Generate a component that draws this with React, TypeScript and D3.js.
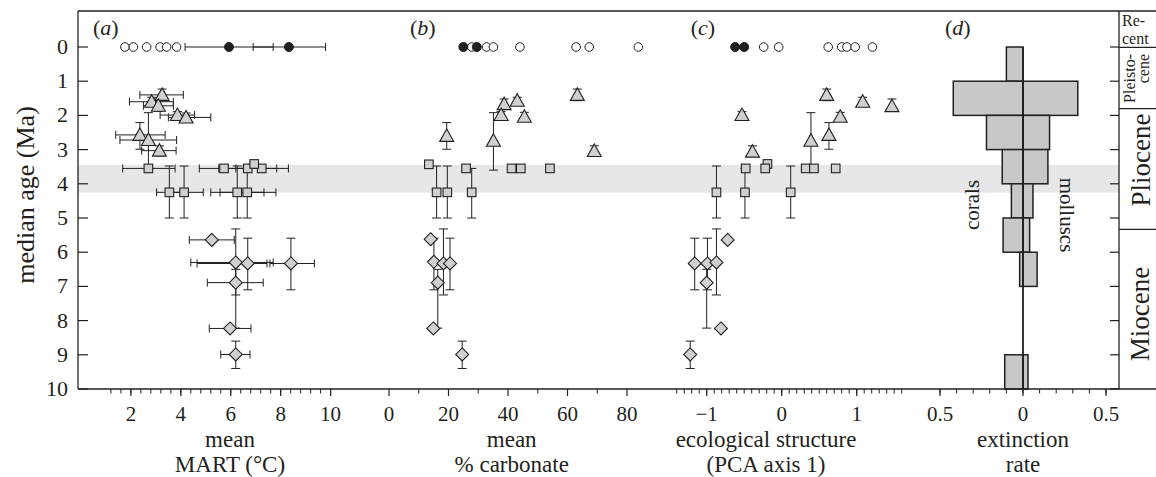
import React from "react";
import * as d3 from "d3";

type Pt = { age: number; v: number; lo?: number; hi?: number; aLo?: number; aHi?: number };

// ---------- shared axis data ----------
const ageTicks = [0, 1, 2, 3, 4, 5, 6, 7, 8, 9, 10];
const bandAges = [3.45, 4.26];
const epochBounds = [0.01, 1.8, 5.33];

// ---------- panel (a): mean MART ----------
const martModernOpen = [1.76, 2.1, 2.63, 3.17, 3.43, 3.83];
const martModernFilled: Pt[] = [
  { age: 0, v: 5.93, lo: 4.17, hi: 7.7 },
  { age: 0, v: 8.33, lo: 6.9, hi: 9.8 },
];
const martTriangles: Pt[] = [
  { age: 1.4, v: 3.25, lo: 2.36, hi: 4.1, aLo: 1.23, aHi: 1.57 },
  { age: 1.6, v: 2.83, lo: 1.94, hi: 3.7, aLo: 1.47, aHi: 1.73 },
  { age: 1.72, v: 3.1, lo: 2.5, hi: 3.7, aLo: 1.52, aHi: 1.88 },
  { age: 1.99, v: 3.86, lo: 3.17, hi: 4.55, aLo: 1.89, aHi: 2.09 },
  { age: 2.06, v: 4.21, lo: 3.5, hi: 5.2, aLo: 1.93, aHi: 2.17 },
  { age: 2.57, v: 2.36, lo: 1.39, hi: 3.37, aLo: 2.21, aHi: 2.99 },
  { age: 2.72, v: 2.7, lo: 1.56, hi: 3.83, aLo: 1.92, aHi: 3.6 },
  { age: 3.03, v: 3.14, lo: 2.43, hi: 3.81, aLo: 2.89, aHi: 3.18 },
];
const martSquares: Pt[] = [
  { age: 3.55, v: 2.7, lo: 1.67, hi: 3.77 },
  { age: 3.55, v: 5.73, lo: 4.74, hi: 6.72 },
  { age: 3.55, v: 6.68, lo: 5.52, hi: 7.84 },
  { age: 3.55, v: 7.24, lo: 6.2, hi: 8.31 },
  { age: 3.42, v: 6.94, aLo: 3.36, aHi: 3.48 },
  { age: 4.25, v: 3.54, lo: 3.03, hi: 4.17, aLo: 3.48, aHi: 5.0 },
  { age: 4.25, v: 4.13, lo: 3.57, hi: 4.9, aLo: 3.48, aHi: 5.0 },
  { age: 4.25, v: 6.26, lo: 5.2, hi: 7.33, aLo: 3.48, aHi: 5.0 },
  { age: 4.25, v: 6.66, lo: 5.57, hi: 7.81, aLo: 3.48, aHi: 5.0 },
];
const martDiamonds: Pt[] = [
  { age: 5.64, v: 5.24, lo: 4.34, hi: 6.14 },
  { age: 6.3, v: 6.2, lo: 4.4, hi: 7.7, aLo: 5.32, aHi: 7.25 },
  { age: 6.33, v: 6.68, lo: 4.65, hi: 7.45, aLo: 5.59, aHi: 7.1 },
  { age: 6.33, v: 8.41, lo: 7.57, hi: 9.35, aLo: 5.59, aHi: 7.1 },
  { age: 6.89, v: 6.2, lo: 5.06, hi: 7.3, aLo: 6.5, aHi: 8.22 },
  { age: 8.23, v: 5.97, lo: 5.14, hi: 6.81 },
  { age: 8.99, v: 6.2, lo: 5.6, hi: 6.77, aLo: 8.6, aHi: 9.4 },
];

// ---------- panel (b): mean % carbonate ----------
const carbModernOpen = [27.8, 32.8, 35.1, 44.0, 62.9, 67.3, 83.8];
const carbModernFilled: Pt[] = [
  { age: 0, v: 25.0 },
  { age: 0, v: 29.5 },
];
const carbTriangles: Pt[] = [
  { age: 1.4, v: 63.3, aLo: 1.23, aHi: 1.57 },
  { age: 1.57, v: 43.1, aLo: 1.47, aHi: 1.7 },
  { age: 1.67, v: 38.7, aLo: 1.52, aHi: 1.82 },
  { age: 1.99, v: 37.7, aLo: 1.89, aHi: 2.09 },
  { age: 2.04, v: 45.5, aLo: 1.91, aHi: 2.15 },
  { age: 2.6, v: 19.4, aLo: 2.21, aHi: 2.99 },
  { age: 2.74, v: 35.1, aLo: 1.92, aHi: 3.6 },
  { age: 3.04, v: 69.0, aLo: 2.89, aHi: 3.18 },
];
const carbSquares: Pt[] = [
  { age: 3.43, v: 13.4, aLo: 3.36, aHi: 3.48 },
  { age: 3.55, v: 25.9 },
  { age: 3.55, v: 41.2 },
  { age: 3.55, v: 44.3 },
  { age: 3.55, v: 54.1 },
  { age: 4.25, v: 16.0, aLo: 3.48, aHi: 5.0 },
  { age: 4.25, v: 19.6, aLo: 3.48, aHi: 5.0 },
  { age: 4.25, v: 27.8, aLo: 3.55, aHi: 5.0 },
];
const carbDiamonds: Pt[] = [
  { age: 5.62, v: 14.0 },
  { age: 6.28, v: 15.1, aLo: 5.59, aHi: 7.1 },
  { age: 6.33, v: 18.3, aLo: 5.32, aHi: 7.25 },
  { age: 6.33, v: 20.5, aLo: 5.59, aHi: 7.1 },
  { age: 6.89, v: 16.4, aLo: 6.5, aHi: 8.22 },
  { age: 8.23, v: 14.9 },
  { age: 8.99, v: 24.6, aLo: 8.6, aHi: 9.4 },
];

// ---------- panel (c): ecological structure (PCA axis 1) ----------
const pcaModernOpen = [-0.24, -0.04, 0.62, 0.8, 0.87, 0.98, 1.21];
const pcaModernFilled: Pt[] = [
  { age: 0, v: -0.62 },
  { age: 0, v: -0.5 },
];
const pcaTriangles: Pt[] = [
  { age: 1.4, v: 0.6, aLo: 1.23, aHi: 1.57 },
  { age: 1.6, v: 1.08, aLo: 1.47, aHi: 1.73 },
  { age: 1.73, v: 1.47, aLo: 1.52, aHi: 1.88 },
  { age: 1.99, v: -0.53, aLo: 1.89, aHi: 2.09 },
  { age: 2.04, v: 0.78, aLo: 1.91, aHi: 2.15 },
  { age: 2.57, v: 0.63, aLo: 2.21, aHi: 2.99 },
  { age: 2.74, v: 0.39, aLo: 1.92, aHi: 3.6 },
  { age: 3.06, v: -0.39, aLo: 2.89, aHi: 3.18 },
];
const pcaSquares: Pt[] = [
  { age: 3.42, v: -0.19, aLo: 3.36, aHi: 3.48 },
  { age: 3.55, v: -0.48 },
  { age: 3.55, v: -0.22 },
  { age: 3.55, v: 0.32 },
  { age: 3.55, v: 0.43 },
  { age: 3.55, v: 0.72 },
  { age: 4.25, v: -0.87, aLo: 3.48, aHi: 5.0 },
  { age: 4.25, v: -0.49, aLo: 3.55, aHi: 5.0 },
  { age: 4.25, v: 0.12, aLo: 3.48, aHi: 5.0 },
];
const pcaDiamonds: Pt[] = [
  { age: 5.64, v: -0.72 },
  { age: 6.33, v: -1.16, aLo: 5.59, aHi: 7.1 },
  { age: 6.33, v: -0.99, aLo: 5.59, aHi: 7.1 },
  { age: 6.3, v: -0.87, aLo: 5.32, aHi: 7.25 },
  { age: 6.89, v: -1.0, aLo: 6.5, aHi: 8.22 },
  { age: 8.23, v: -0.81 },
  { age: 8.99, v: -1.22, aLo: 8.6, aHi: 9.4 },
];

// ---------- panel (d): extinction rate per 1-Myr bin ----------
const binStarts = [0, 1, 2, 3, 4, 5, 6, 7, 8, 9];
const coralRates = [0.1, 0.42, 0.22, 0.125, 0.07, 0.12, 0.02, 0, 0, 0.11];
const molluscRates = [0, 0.33, 0.16, 0.15, 0.06, 0.04, 0.085, 0, 0, 0.03];

// ---------- style ----------
const ink = "#231f20";
const markFill = "#d0d0d0";
const bandFill = "#e6e7e8";
const serif = "'Liberation Serif', 'Times New Roman', serif";

const top = 11;
const left = 78;
const epochX = 1119;
const right = 1156;

const y = d3.scaleLinear().domain([0, 10]).range([47, 389]);
const xa = d3.scaleLinear().domain([0, 10]).range([81, 330.6]);
const xb = d3.scaleLinear().domain([0, 80]).range([389, 627]);
const xc = d3.scaleLinear().domain([-1, 1]).range([706.7, 856.7]);
const xd = d3.scaleLinear().domain([-0.5, 0.5]).range([940, 1106]);

const bottom = y(10);

function ErrX({ x, p }: { x: d3.ScaleLinear<number, number>; p: Pt }) {
  if (p.lo == null || p.hi == null) return null;
  const yy = y(p.age);
  return (
    <g stroke={ink} strokeWidth={1}>
      <line x1={x(p.lo)} x2={x(p.hi)} y1={yy} y2={yy} />
      <line x1={x(p.lo)} x2={x(p.lo)} y1={yy - 4} y2={yy + 4} />
      <line x1={x(p.hi)} x2={x(p.hi)} y1={yy - 4} y2={yy + 4} />
    </g>
  );
}

function ErrY({ x, p }: { x: d3.ScaleLinear<number, number>; p: Pt }) {
  if (p.aLo == null || p.aHi == null) return null;
  const xx = x(p.v);
  return (
    <g stroke={ink} strokeWidth={1}>
      <line x1={xx} x2={xx} y1={y(p.aLo)} y2={y(p.aHi)} />
      <line x1={xx - 4.5} x2={xx + 4.5} y1={y(p.aLo)} y2={y(p.aLo)} />
      <line x1={xx - 4.5} x2={xx + 4.5} y1={y(p.aHi)} y2={y(p.aHi)} />
    </g>
  );
}

const triPath = (cx: number, cy: number) =>
  `M${cx},${cy - 7}L${cx + 7},${cy + 5.5}L${cx - 7},${cy + 5.5}Z`;
const diaPath = (cx: number, cy: number) =>
  `M${cx},${cy - 6.5}L${cx + 6.5},${cy}L${cx},${cy + 6.5}L${cx - 6.5},${cy}Z`;

function Panel(props: {
  x: d3.ScaleLinear<number, number>;
  open: number[];
  filled: Pt[];
  tris: Pt[];
  squares: Pt[];
  diamonds: Pt[];
}) {
  const { x, open, filled, tris, squares, diamonds } = props;
  const all = [...filled, ...tris, ...squares, ...diamonds];
  return (
    <g>
      {all.map((p, i) => (
        <g key={"e" + i}>
          <ErrY x={x} p={p} />
          <ErrX x={x} p={p} />
        </g>
      ))}
      {open.map((v, i) => (
        <circle key={"o" + i} cx={x(v)} cy={y(0)} r={4.3} fill="#fff" stroke={ink} strokeWidth={1} />
      ))}
      {filled.map((p, i) => (
        <circle key={"f" + i} cx={x(p.v)} cy={y(p.age)} r={4.5} fill={ink} stroke={ink} />
      ))}
      {tris.map((p, i) => (
        <path key={"t" + i} d={triPath(x(p.v), y(p.age))} fill={markFill} stroke={ink} strokeWidth={1.1} />
      ))}
      {squares.map((p, i) => (
        <rect key={"s" + i} x={x(p.v) - 4.3} y={y(p.age) - 4.3} width={8.6} height={8.6}
          fill={markFill} stroke={ink} strokeWidth={1.1} />
      ))}
      {diamonds.map((p, i) => (
        <path key={"d" + i} d={diaPath(x(p.v), y(p.age))} fill={markFill} stroke={ink} strokeWidth={1.1} />
      ))}
    </g>
  );
}

function XAxis(props: {
  x: d3.ScaleLinear<number, number>;
  major: number[];
  minor: number[];
  fmt?: (v: number) => string;
}) {
  const { x, major, minor, fmt } = props;
  return (
    <g>
      {minor.map((v, i) => (
        <line key={"m" + i} x1={x(v)} x2={x(v)} y1={bottom} y2={bottom + 4.5} stroke={ink} strokeWidth={1} />
      ))}
      {major.map((v, i) => (
        <g key={"M" + i}>
          <line x1={x(v)} x2={x(v)} y1={bottom} y2={bottom + 7} stroke={ink} strokeWidth={1.2} />
          <text x={x(v)} y={421} textAnchor="middle" fontSize={21} fontFamily={serif} fill={ink}>
            {fmt ? fmt(v) : String(v)}
          </text>
        </g>
      ))}
    </g>
  );
}

function Title({ cx, lines }: { cx: number; lines: string[] }) {
  return (
    <g fontFamily={serif} fontSize={23} fill={ink} textAnchor="middle">
      {lines.map((t, i) => (
        <text key={i} x={cx} y={447 + i * 25}>{t}</text>
      ))}
    </g>
  );
}

function Tag({ x, letter }: { x: number; letter: string }) {
  return (
    <text x={x} y={35} fontFamily={serif} fontSize={22} fill={ink}>
      (<tspan fontStyle="italic">{letter}</tspan>)
    </text>
  );
}

export default function App() {
  const step = (a: number, b: number, s: number) =>
    d3.range(Math.round(a / s), Math.round(b / s) + 1).map((k) => +(k * s).toFixed(3));

  return (
    <svg width={1156} height={477} style={{ position: "absolute", left: 0, top: 0, background: "#fff" }}>
      {/* grey time band */}
      <rect x={left} y={y(bandAges[0])} width={epochX - left} height={y(bandAges[1]) - y(bandAges[0])} fill={bandFill} />

      {/* panel d bars */}
      <g>
        {binStarts.map((b, i) => (
          <g key={i}>
            {coralRates[i] > 0 && (
              <rect x={xd(-coralRates[i])} y={y(b)} width={xd(0) - xd(-coralRates[i])} height={y(b + 1) - y(b)}
                fill="#c8c8c8" stroke={ink} strokeWidth={1.5} />
            )}
            {molluscRates[i] > 0 && (
              <rect x={xd(0)} y={y(b)} width={xd(molluscRates[i]) - xd(0)} height={y(b + 1) - y(b)}
                fill="#c8c8c8" stroke={ink} strokeWidth={1.5} />
            )}
          </g>
        ))}
        <line x1={xd(0)} x2={xd(0)} y1={y(0)} y2={y(10)} stroke={ink} strokeWidth={1.8} />
      </g>

      <Panel x={xa} open={martModernOpen} filled={martModernFilled} tris={martTriangles} squares={martSquares} diamonds={martDiamonds} />
      <Panel x={xb} open={carbModernOpen} filled={carbModernFilled} tris={carbTriangles} squares={carbSquares} diamonds={carbDiamonds} />
      <Panel x={xc} open={pcaModernOpen} filled={pcaModernFilled} tris={pcaTriangles} squares={pcaSquares} diamonds={pcaDiamonds} />

      {/* frame */}
      <g stroke={ink} strokeWidth={1.3} fill="none">
        <line x1={left} x2={right} y1={top} y2={top} />
        <line x1={left} x2={right} y1={bottom} y2={bottom} />
        <line x1={left} x2={left} y1={top} y2={bottom} />
        <line x1={epochX} x2={epochX} y1={top} y2={bottom} />
        {epochBounds.map((a, i) => (
          <line key={i} x1={epochX} x2={right} y1={y(a)} y2={y(a)} />
        ))}
      </g>

      {/* age ticks, left and right of plot */}
      {ageTicks.map((a) => (
        <g key={a}>
          <line x1={left} x2={left + 10} y1={y(a)} y2={y(a)} stroke={ink} strokeWidth={1.2} />
          <line x1={epochX - 9} x2={epochX} y1={y(a)} y2={y(a)} stroke={ink} strokeWidth={1.2} />
          <text x={68} y={y(a) + 7} textAnchor="end" fontSize={22} fontFamily={serif} fill={ink}>{a}</text>
        </g>
      ))}
      <text transform={`translate(34,195) rotate(-90)`} textAnchor="middle" fontSize={26} fontFamily={serif} fill={ink}>
        median age (Ma)
      </text>

      {/* x axes */}
      <XAxis x={xa} major={[2, 4, 6, 8, 10]} minor={step(1.2, 10, 0.4)} />
      <XAxis x={xb} major={[0, 20, 40, 60, 80]} minor={[10, 30, 50, 70]} />
      <XAxis x={xc} major={[-1, 0, 1]} minor={step(-1.4, 1.6, 0.1)} fmt={(v) => (v < 0 ? "\u2212" + Math.abs(v) : String(v))} />
      <XAxis x={xd} major={[-0.5, 0, 0.5]} minor={step(-0.5, 0.5, 0.1)} fmt={(v) => String(Math.abs(v))} />

      <Title cx={230} lines={["mean", "MART (\u00b0C)"]} />
      <Title cx={511.7} lines={["mean", "% carbonate"]} />
      <Title cx={766} lines={["ecological structure", "(PCA axis 1)"]} />
      <Title cx={1023} lines={["extinction", "rate"]} />

      <Tag x={93} letter="a" />
      <Tag x={410} letter="b" />
      <Tag x={690.7} letter="c" />
      <Tag x={945} letter="d" />

      <text transform="translate(979,205) rotate(-90)" textAnchor="middle" fontSize={21} fontFamily={serif} fill={ink}>corals</text>
      <text transform="translate(1060,215) rotate(90)" textAnchor="middle" fontSize={21} fontFamily={serif} fill={ink}>molluscs</text>

      {/* epochs */}
      <g fontFamily={serif} fill={ink}>
        <text x={1122} y={26} fontSize={16}>Re-</text>
        <text x={1122} y={44} fontSize={16}>cent</text>
        <text transform="translate(1135,54) rotate(-90)" textAnchor="end" fontSize={16}>Pleisto-</text>
        <text transform="translate(1149,54) rotate(-90)" textAnchor="end" fontSize={16}>cene</text>
        <text transform="translate(1150,160) rotate(-90)" textAnchor="middle" fontSize={27}>Pliocene</text>
        <text transform="translate(1149,314) rotate(-90)" textAnchor="middle" fontSize={27}>Miocene</text>
      </g>
    </svg>
  );
}
